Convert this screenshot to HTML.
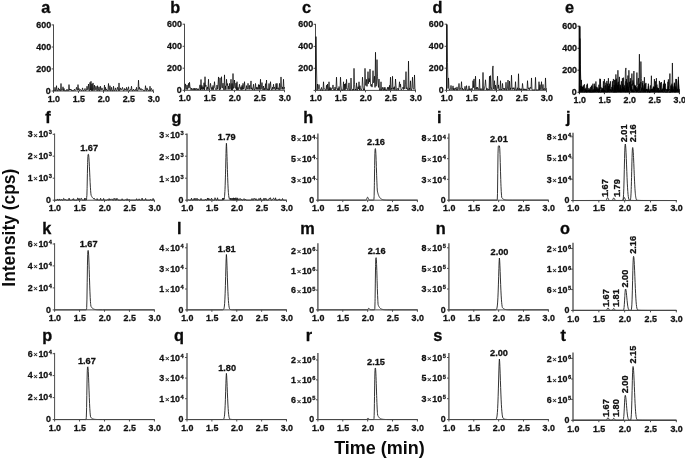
<!DOCTYPE html>
<html lang="en"><head><meta charset="utf-8"><title>Chromatograms</title>
<style>
html,body{margin:0;padding:0;background:#fff;}
body{width:685px;height:458px;overflow:hidden;}
svg{display:block;}
text{font-family:'Liberation Sans', Arial, Helvetica, sans-serif;font-weight:700;fill:#111;}
.tk{font-size:8.9px;stroke:#111;stroke-width:0.28px;}
.pk{font-size:9.2px;}
.mul{font-size:7.8px;font-weight:400;stroke-width:0.15px;}
.sup{font-size:5.7px;}
.let{font-size:16.3px;fill:#0a0a0a;stroke:#0a0a0a;stroke-width:0.3px;}
.big{font-size:18px;fill:#0a0a0a;}
</style></head><body>
<svg width="685" height="458" viewBox="0 0 685 458">
<rect width="685" height="458" fill="#fff"/>
<text transform="translate(15 227.7) rotate(-90) scale(1 1.04)" text-anchor="middle" class="big" style="font-size:17.4px">Intensity (cps)</text>
<text x="379.5" y="453.9" text-anchor="middle" class="big">Time (min)</text>
<path d="M53.5 24.5V91.5" stroke="#4a4a4a" stroke-width="1.0" fill="none"/>
<path d="M53 91H154" stroke="#4a4a4a" stroke-width="1.0" fill="none"/>
<text x="53.8" y="101.9" text-anchor="middle" class="tk">1.0</text>
<text x="78.8" y="101.9" text-anchor="middle" class="tk">1.5</text>
<text x="103.8" y="101.9" text-anchor="middle" class="tk">2.0</text>
<text x="128.8" y="101.9" text-anchor="middle" class="tk">2.5</text>
<text x="153.8" y="101.9" text-anchor="middle" class="tk">3.0</text>
<text x="51.15" y="27.9" text-anchor="end" class="tk">600</text>
<text x="51.15" y="50" text-anchor="end" class="tk">400</text>
<text x="51.15" y="71.9" text-anchor="end" class="tk">200</text>
<text x="50.7" y="93.7" text-anchor="end" class="tk">0</text>
<path d="M53.5 91v1.9M78.5 91v1.9M103.5 91v1.9M128.5 91v1.9M153.5 91v1.9M53.5 24.9h-1.9M53.5 47h-1.9M53.5 68.9h-1.9M53.5 91h-1.9" stroke="#4a4a4a" stroke-width="1.0" fill="none"/>
<text x="41.2" y="12.7" class="let">a</text>
<path d="M184.5 23.8V90.8" stroke="#4a4a4a" stroke-width="1.0" fill="none"/>
<path d="M184 90.3H285" stroke="#4a4a4a" stroke-width="1.0" fill="none"/>
<text x="184.8" y="101.2" text-anchor="middle" class="tk">1.0</text>
<text x="209.8" y="101.2" text-anchor="middle" class="tk">1.5</text>
<text x="234.8" y="101.2" text-anchor="middle" class="tk">2.0</text>
<text x="259.8" y="101.2" text-anchor="middle" class="tk">2.5</text>
<text x="284.8" y="101.2" text-anchor="middle" class="tk">3.0</text>
<text x="181.9" y="27.2" text-anchor="end" class="tk">600</text>
<text x="181.9" y="49.3" text-anchor="end" class="tk">400</text>
<text x="181.9" y="71.2" text-anchor="end" class="tk">200</text>
<text x="181.7" y="93" text-anchor="end" class="tk">0</text>
<path d="M184.5 90.3v1.9M209.5 90.3v1.9M234.5 90.3v1.9M259.5 90.3v1.9M284.5 90.3v1.9M184.5 24.2h-1.9M184.5 46.3h-1.9M184.5 68.2h-1.9M184.5 90.3h-1.9" stroke="#4a4a4a" stroke-width="1.0" fill="none"/>
<text x="170.3" y="12.7" class="let">b</text>
<path d="M315.5 23.9V90.9" stroke="#4a4a4a" stroke-width="1.0" fill="none"/>
<path d="M315 90.4H416" stroke="#4a4a4a" stroke-width="1.0" fill="none"/>
<text x="315.8" y="101.3" text-anchor="middle" class="tk">1.0</text>
<text x="340.8" y="101.3" text-anchor="middle" class="tk">1.5</text>
<text x="365.8" y="101.3" text-anchor="middle" class="tk">2.0</text>
<text x="390.8" y="101.3" text-anchor="middle" class="tk">2.5</text>
<text x="415.8" y="101.3" text-anchor="middle" class="tk">3.0</text>
<text x="313.15" y="27.3" text-anchor="end" class="tk">600</text>
<text x="313.15" y="49.4" text-anchor="end" class="tk">400</text>
<text x="313.15" y="71.3" text-anchor="end" class="tk">200</text>
<path d="M315.5 90.4v1.9M340.5 90.4v1.9M365.5 90.4v1.9M390.5 90.4v1.9M415.5 90.4v1.9M315.5 24.3h-1.9M315.5 46.4h-1.9M315.5 68.3h-1.9M315.5 90.4h-1.9" stroke="#4a4a4a" stroke-width="1.0" fill="none"/>
<text x="302" y="12.7" class="let">c</text>
<path d="M446.5 23.8V90.8" stroke="#4a4a4a" stroke-width="1.0" fill="none"/>
<path d="M446 90.3H547" stroke="#4a4a4a" stroke-width="1.0" fill="none"/>
<text x="446.8" y="101.2" text-anchor="middle" class="tk">1.0</text>
<text x="471.8" y="101.2" text-anchor="middle" class="tk">1.5</text>
<text x="496.8" y="101.2" text-anchor="middle" class="tk">2.0</text>
<text x="521.8" y="101.2" text-anchor="middle" class="tk">2.5</text>
<text x="546.8" y="101.2" text-anchor="middle" class="tk">3.0</text>
<text x="443.65" y="27.2" text-anchor="end" class="tk">600</text>
<text x="443.65" y="49.3" text-anchor="end" class="tk">400</text>
<text x="443.65" y="71.2" text-anchor="end" class="tk">200</text>
<text x="443.7" y="93" text-anchor="end" class="tk">0</text>
<path d="M446.5 90.3v1.9M471.5 90.3v1.9M496.5 90.3v1.9M521.5 90.3v1.9M546.5 90.3v1.9M446.5 24.2h-1.9M446.5 46.3h-1.9M446.5 68.2h-1.9M446.5 90.3h-1.9" stroke="#4a4a4a" stroke-width="1.0" fill="none"/>
<text x="432.4" y="12.7" class="let">d</text>
<path d="M579.4 25.8V92.8" stroke="#222" stroke-width="1.6" fill="none"/>
<path d="M578.9 92.3H679.9" stroke="#222" stroke-width="1.0" fill="none"/>
<text x="579.7" y="103.2" text-anchor="middle" class="tk">1.0</text>
<text x="604.7" y="103.2" text-anchor="middle" class="tk">1.5</text>
<text x="629.7" y="103.2" text-anchor="middle" class="tk">2.0</text>
<text x="654.7" y="103.2" text-anchor="middle" class="tk">2.5</text>
<text x="679.7" y="103.2" text-anchor="middle" class="tk">3.0</text>
<text x="577.05" y="29.2" text-anchor="end" class="tk">600</text>
<text x="577.05" y="51.3" text-anchor="end" class="tk">400</text>
<text x="577.05" y="73.2" text-anchor="end" class="tk">200</text>
<text x="576.6" y="95" text-anchor="end" class="tk">0</text>
<path d="M579.4 92.3v1.9M604.4 92.3v1.9M629.4 92.3v1.9M654.4 92.3v1.9M679.4 92.3v1.9M579.4 26.2h-1.9M579.4 48.3h-1.9M579.4 70.2h-1.9M579.4 92.3h-1.9" stroke="#222" stroke-width="1.0" fill="none"/>
<text x="565" y="12.7" class="let">e</text>
<path d="M53.5 90.65L54 90.65L54.5 90.65L55 87.34L55.5 90.65L56 90.65L56.5 85.69L57 90.65L57.5 90.65L58 89.86L58.5 87.9L59 90.65L59.5 89.13L60 90.65L60.5 90.65L61 83.49L61.5 90.17L62 90.65L62.5 89.98L63 86.79L63.5 90.65L64 88.45L64.5 90.65L65 90.65L65.5 90.65L66 90.65L66.5 90.65L67 89.11L67.5 90.65L68 90.65L68.5 90.65L69 84.59L69.5 90.11L70 89L70.5 90.04L71 89.15L71.5 90.65L72 89.96L72.5 90.65L73 90.65L73.5 90.65L74 90.11L74.5 89L75 90.65L75.5 90.09L76 89.5L76.5 87.34L77 89.92L77.5 90.12L78 84.59L78.5 89.8L79 88.45L79.5 90.65L80 89.49L80.5 89.73L81 89.9L81.5 90.65L82 90.65L82.5 87.9L83 89.76L83.5 90.65L84 90.65L84.5 90.06L85 88.45L85.5 90.65L86 89.87L86.5 90.09L87 86.24L87.5 89.54L88 89.7L88.5 84.04L89 90.65L89.5 90.65L90 82.39L90.5 90.02L91 81.29L91.5 90.65L92 84.04L92.5 90.65L93 82.94L93.5 89.16L94 90.65L94.5 85.14L95 90.08L95.5 89.15L96 86.24L96.5 89.3L97 90.65L97.5 85.69L98 90.65L98.5 89.94L99 86.79L99.5 90.65L100 90.65L100.5 86.24L101 90.17L101.5 89.71L102 87.9L102.5 89.57L103 89.8L103.5 90.65L104 90.65L104.5 85.14L105 90.65L105.5 87.34L106 90.15L106.5 89.2L107 90.65L107.5 90.65L108 89.5L108.5 83.49L109 90.65L109.5 89.11L110 85.69L110.5 90.65L111 90.65L111.5 87.34L112 90.65L112.5 90.65L113 90.65L113.5 86.24L114 90.65L114.5 90.65L115 89.79L115.5 87.9L116 90.65L116.5 90.65L117 89.56L117.5 87.34L118 89.5L118.5 90.65L119 82.94L119.5 90.65L120 90.1L120.5 87.9L121 89.74L121.5 89.38L122 89.54L122.5 87.34L123 89.43L123.5 90.65L124 90.65L124.5 88.45L125 90.18L125.5 89.46L126 90L126.5 87.34L127 90.65L127.5 89.22L128 89.47L128.5 86.79L129 90.65L129.5 90.65L130 90.65L130.5 89.56L131 90.04L131.5 86.24L132 90.65L132.5 90.65L133 90.65L133.5 89L134 90L134.5 90.65L135 89.96L135.5 89.51L136 90.65L136.5 87.34L137 90.65L137.5 90.65L138 90.15L138.5 80.18L139 89.42L139.5 87.34L140 89.33L140.5 90.04L141 88.45L141.5 89.87L142 90.04L142.5 89.51L143 89.51L143.5 90.65L144 90.65L144.5 90.65L145 90.65L145.5 85.69L146 90.18L146.5 90.65L147 87.9L147.5 89.89L148 89.43L148.5 90.65L149 90.65L149.5 90.65L150 86.24L150.5 90.65L151 89.97L151.5 88.45L152 89.7L152.5 90.65L153 90.65L153.5 89.57" stroke="#000" stroke-width="0.72" fill="none" stroke-linejoin="round"/>
<path d="M184.5 89.95L185 89.95L185.5 83.89L186 88.97L186.5 89.3L187 84.99L187.5 89.49L188 87.29L188.5 83.34L189 88.17L189.5 82.24L190 87.39L190.5 87.6L191 89.83L191.5 88.11L192 89.9L192.5 89.47L193 88.51L193.5 89.72L194 88.28L194.5 89.93L195 88.03L195.5 89.86L196 89.13L196.5 88.37L197 89.91L197.5 88.78L198 89.89L198.5 88.82L199 89.81L199.5 87.24L200 84.83L200.5 89.95L201 79.48L201.5 89.38L202 85.44L202.5 89.52L203 86.92L203.5 89.36L204 82.73L204.5 89.91L205 76.73L205.5 86.49L206 85.2L206.5 89.38L207 89.95L207.5 86.92L208 89.35L208.5 79.26L209 89.88L209.5 89.95L210 87.45L210.5 83.34L211 87.09L211.5 89.58L212 87.23L212.5 89.64L213 85.47L213.5 89.66L214 86.96L214.5 81.69L215 87.8L215.5 88.49L216 89.95L216.5 88.92L217 84.99L217.5 89.29L218 85.12L218.5 76.95L219 88.72L219.5 89.95L220 77.83L220.5 89.38L221 87.02L221.5 76.73L222 87.86L222.5 87.89L223 83.16L223.5 89.24L224 89.95L224.5 74.86L225 89.72L225.5 85.89L226 89.55L226.5 79.26L227 85.57L227.5 83.55L228 89.47L228.5 86.09L229 89.22L229.5 83.38L230 89.38L230.5 86.83L231 79.26L231.5 89.95L232 83.38L232.5 89.83L233 73.54L233.5 88.43L234 86.71L234.5 80.03L235 88.17L235.5 88.39L236 83.08L236.5 89.89L237 81.69L237.5 89.95L238 87.31L238.5 89.68L239 88.01L239.5 84.22L240 88.15L240.5 89.44L241 86.77L241.5 89.74L242 85.39L242.5 89.48L243 83.35L243.5 89.19L244 87.42L244.5 81.69L245 88.31L245.5 89.95L246 89.95L246.5 85.61L247 89.27L247.5 88.9L248 83.34L248.5 87.51L249 89.42L249.5 85.39L250 89.24L250.5 86.24L251 80.92L251.5 89.19L252 87.78L252.5 89.95L253 88.26L253.5 84.22L254 89.95L254.5 89.95L255 88.1L255.5 83.43L256 89.39L256.5 87.24L257 89.39L257.5 87.49L258 89.53L258.5 84.56L259 89.29L259.5 84.84L260 89.66L260.5 79.26L261 89.34L261.5 87.4L262 82.57L262.5 88.64L263 89.95L263.5 86.06L264 89.86L264.5 88.39L265 89.95L265.5 83.67L266 89.28L266.5 80.03L267 89.95L267.5 88.78L268 89.95L268.5 89.95L269 83.5L269.5 89.87L270 87.47L270.5 81.69L271 87.92L271.5 89.69L272 89.95L272.5 87.13L273 89.37L273.5 84.22L274 88.64L274.5 87.12L275 89.38L275.5 89.95L276 83.58L276.5 89.29L277 83.34L277.5 89.26L278 88.26L278.5 87.92L279 89.95L279.5 83.37L280 89.73L280.5 87.7L281 76.95L281.5 87.31L282 89.39L282.5 86.92L283 89.31L283.5 79.26L284 89.46L284.5 87.01" stroke="#000" stroke-width="0.72" fill="none" stroke-linejoin="round"/>
<path d="M315.5 90.05L316 36.62L316.5 68.02L317 90.05L317.5 83.99L318 89.61L318.5 88.5L319 84.54L319.5 87.71L320 89.96L320.5 90.05L321 90.05L321.5 87.41L322 89.7L322.5 90.05L323 90.05L323.5 81.79L324 89.28L324.5 88.76L325 89.17L325.5 90.05L326 90.05L326.5 85.24L327 89.61L327.5 84.04L328 90.05L328.5 90.05L329 81.79L329.5 90.05L330 87.35L330.5 90.05L331 87.75L331.5 89.74L332 89.09L332.5 88.07L333 84.95L333.5 89.45L334 89.13L334.5 90.05L335 87.07L335.5 89.72L336 88.24L336.5 77.16L337 88.77L337.5 90.05L338 88.15L338.5 90.05L339 86.54L339.5 89.67L340 90.05L340.5 77.16L341 85.89L341.5 89.86L342 90.05L342.5 90.05L343 90.05L343.5 81.79L344 90.05L344.5 84.08L345 90.05L345.5 83.58L346 89.18L346.5 79.36L347 87.57L347.5 89.35L348 90.05L348.5 87.26L349 82.89L349.5 90.05L350 90.05L350.5 90.05L351 78.04L351.5 87.95L352 90.05L352.5 90.05L353 89.02L353.5 90.05L354 68.35L354.5 84.59L355 90.05L355.5 89.02L356 90.05L356.5 82.89L357 90.05L357.5 90.05L358 86.73L358.5 89.04L359 81.79L359.5 90.05L360 85.68L360.5 89.31L361 89.19L361.5 90.05L362 87.89L362.5 77.16L363 85.39L363.5 90.05L364 88.69L364.5 90.05L365 68.35L365.5 84.96L366 85.63L366.5 79.39L367 86.41L367.5 81.83L368 71.65L368.5 83.66L369 78.53L369.5 81.94L370 69.12L370.5 84.27L371 86.28L371.5 84.3L372 87.13L372.5 84.11L373 70.66L373.5 82.87L374 82.24L374.5 76.23L375 87.45L375.5 52.26L376 86.27L376.5 84.67L377 59.64L377.5 76.79L378 83.06L378.5 87.42L379 79.03L379.5 90.05L380 90.05L380.5 90.05L381 81.79L381.5 90.05L382 90.05L382.5 87.39L383 89.67L383.5 90.05L384 87.3L384.5 90.05L385 87.3L385.5 90.05L386 90.05L386.5 90.05L387 90.05L387.5 87.3L388 89.58L388.5 87.3L389 90.05L389.5 85.33L390 89.79L390.5 77.16L391 90.05L391.5 88.15L392 88.88L392.5 76.28L393 89.75L393.5 87.61L394 89.31L394.5 86.71L395 90.05L395.5 79.03L396 85.94L396.5 89.78L397 90.05L397.5 88.61L398 87.99L398.5 90.05L399 87.45L399.5 81.79L400 87.15L400.5 84.11L401 89.37L401.5 90.05L402 88.61L402.5 88.26L403 87.2L403.5 89.48L404 79.91L404.5 88.67L405 88.96L405.5 84.23L406 71.65L406.5 88.82L407 87.69L407.5 89.29L408 90.05L408.5 61.08L409 90.05L409.5 87.95L410 89.53L410.5 80.8L411 90.05L411.5 90.05L412 87.83L412.5 77.16L413 87.52L413.5 89.3L414 88.81L414.5 74.96L415 90.05L415.5 90.05" stroke="#000" stroke-width="0.72" fill="none" stroke-linejoin="round"/>
<path d="M446.5 89.95L447 24.51L447.5 62.41L448 88.57L448.5 77.94L449 87.9L449.5 89.95L450 89.95L450.5 88.96L451 85.43L451.5 89.19L452 89.95L452.5 89.08L453 85.87L453.5 89.95L454 87.99L454.5 89.95L455 89.5L455.5 87.75L456 89.95L456.5 89.95L457 86.88L457.5 89.95L458 89.95L458.5 87.72L459 83.45L459.5 88.98L460 89.95L460.5 88.1L461 88.55L461.5 81.69L462 89.83L462.5 87.96L463 89.89L463.5 89.95L464 88.99L464.5 89.33L465 86.31L465.5 89.95L466 89.95L466.5 85.66L467 89.74L467.5 89.95L468 89.95L468.5 89.95L469 85.87L469.5 89.95L470 88.48L470.5 89.95L471 89.95L471.5 88.46L472 89.95L472.5 88.86L473 80.7L473.5 87.7L474 78.93L474.5 87.72L475 89.95L475.5 76.18L476 88.94L476.5 87.38L477 89.95L477.5 87.17L478 88.96L478.5 88.84L479 89.95L479.5 79.26L480 89.95L480.5 89.95L481 88.38L481.5 89.95L482 89.95L482.5 89.95L483 72.43L483.5 89.95L484 89.95L484.5 88.12L485 85.42L485.5 79.81L486 86.2L486.5 89.95L487 88.07L487.5 89.95L488 89.95L488.5 88.97L489 89.95L489.5 76.18L490 89.95L490.5 75.63L491 88.23L491.5 87.87L492 89.95L492.5 69.02L493 65.93L493.5 88.91L494 89.1L494.5 80.7L495 89.95L495.5 85.07L496 89.95L496.5 89.95L497 85.3L497.5 76.18L498 88.6L498.5 84.92L499 89.68L499.5 88.97L500 89.95L500.5 80.7L501 89.95L501.5 89.18L502 89.95L502.5 83.45L503 88.91L503.5 88.23L504 89.95L504.5 88.26L505 89.95L505.5 88.92L506 82.24L506.5 89.95L507 89.95L507.5 88.01L508 80.03L508.5 89.57L509 89.95L509.5 81.14L510 89.95L510.5 87.87L511 89.52L511.5 75.19L512 87.45L512.5 89.45L513 87.69L513.5 89.19L514 87.69L514.5 89.95L515 89.95L515.5 81.69L516 89.95L516.5 89.95L517 89.95L517.5 87.78L518 89.95L518.5 73.76L519 89.95L519.5 88.32L520 89.95L520.5 88.79L521 89.95L521.5 88.76L522 89.95L522.5 83.45L523 87.84L523.5 89.95L524 88.89L524.5 89.95L525 88.8L525.5 89.95L526 89.07L526.5 89.95L527 89.95L527.5 80.7L528 87.95L528.5 89.22L529 87.65L529.5 89.72L530 88.11L530.5 87.3L531 88.6L531.5 77.94L532 89.81L532.5 89.95L533 89.95L533.5 89.95L534 89.95L534.5 89.95L535 89.95L535.5 77.39L536 89.95L536.5 89.95L537 89.95L537.5 89.95L538 89.95L538.5 89.95L539 81.69L539.5 89.95L540 84.63L540.5 89.53L541 88.76L541.5 81.69L542 89.95L542.5 88.42L543 84.44L543.5 89.95L544 88.57L544.5 88.59L545 89.95L545.5 77.94L546 89.95L546.5 88.36" stroke="#000" stroke-width="0.72" fill="none" stroke-linejoin="round"/>
<path d="M579.4 91.95L579.9 91.95L580.4 91.95L580.9 88.65L581.4 91.95L581.9 91.95L582.4 86.99L582.9 91.95L583.4 91.95L583.9 91.16L584.4 89.2L584.9 91.95L585.4 90.43L585.9 91.95L586.4 91.95L586.9 84.79L587.4 91.47L587.9 91.95L588.4 91.28L588.9 88.09L589.4 91.95L589.9 89.75L590.4 91.95L590.9 91.95L591.4 91.95L591.9 91.95L592.4 91.95L592.9 90.41L593.4 91.95L593.9 91.95L594.4 91.95L594.9 85.89L595.4 91.41L595.9 90.3L596.4 91.34L596.9 90.45L597.4 91.95L597.9 91.26L598.4 91.95L598.9 91.95L599.4 91.95L599.9 91.41L600.4 90.3L600.9 91.95L601.4 91.39L601.9 90.8L602.4 88.65L602.9 91.22L603.4 91.42L603.9 85.89L604.4 91.1L604.9 89.75L605.4 91.95L605.9 90.79L606.4 91.03L606.9 91.2L607.4 91.95L607.9 91.95L608.4 89.2L608.9 91.06L609.4 91.95L609.9 91.95L610.4 91.36L610.9 89.75L611.4 91.95L611.9 91.17L612.4 91.39L612.9 87.54L613.4 90.84L613.9 91L614.4 85.34L614.9 91.95L615.4 91.95L615.9 83.69L616.4 91.32L616.9 82.59L617.4 91.95L617.9 85.34L618.4 91.95L618.9 84.24L619.4 90.46L619.9 91.95L620.4 86.44L620.9 91.38L621.4 90.45L621.9 87.54L622.4 90.6L622.9 91.95L623.4 86.99L623.9 91.95L624.4 91.24L624.9 88.09L625.4 91.95L625.9 91.95L626.4 87.54L626.9 91.47L627.4 91.01L627.9 89.2L628.4 90.87L628.9 91.1L629.4 91.95L629.9 91.95L630.4 86.44L630.9 91.95L631.4 88.65L631.9 91.45L632.4 90.5L632.9 91.95L633.4 91.95L633.9 90.8L634.4 84.79L634.9 91.95L635.4 90.41L635.9 86.99L636.4 91.95L636.9 91.95L637.4 88.65L637.9 91.95L638.4 91.95L638.9 91.95L639.4 87.54L639.9 91.95L640.4 91.95L640.9 91.09L641.4 89.2L641.9 91.95L642.4 91.95L642.9 90.86L643.4 88.65L643.9 90.8L644.4 91.95L644.9 84.24L645.4 91.95L645.9 91.4L646.4 89.2L646.9 91.04L647.4 90.68L647.9 90.84L648.4 88.65L648.9 90.73L649.4 91.95L649.9 91.95L650.4 89.75L650.9 91.48L651.4 90.76L651.9 91.3L652.4 88.65L652.9 91.95L653.4 90.52L653.9 90.77L654.4 88.09L654.9 91.95L655.4 91.95L655.9 91.95L656.4 90.86L656.9 91.34L657.4 87.54L657.9 91.95L658.4 91.95L658.9 91.95L659.4 90.3L659.9 91.3L660.4 91.95L660.9 91.26L661.4 90.81L661.9 91.95L662.4 88.65L662.9 91.95L663.4 91.95L663.9 91.45L664.4 81.48L664.9 90.72L665.4 88.65L665.9 90.63L666.4 91.34L666.9 89.75L667.4 91.17L667.9 91.34L668.4 90.81L668.9 90.81L669.4 91.95L669.9 91.95L670.4 91.95L670.9 91.95L671.4 86.99L671.9 91.48L672.4 91.95L672.9 89.2L673.4 91.19L673.9 90.73L674.4 91.95L674.9 91.95L675.4 91.95L675.9 87.54L676.4 91.95L676.9 91.27L677.4 89.75L677.9 91L678.4 91.95L678.9 91.95L679.4 90.87" stroke="#000" stroke-width="0.72" fill="none" stroke-linejoin="round"/>
<path d="M579.4 91.95L579.9 91.95L580.4 85.89L580.9 90.97L581.4 91.3L581.9 86.99L582.4 91.49L582.9 89.29L583.4 85.34L583.9 90.17L584.4 84.24L584.9 89.39L585.4 89.6L585.9 91.83L586.4 90.11L586.9 91.9L587.4 91.47L587.9 90.51L588.4 91.72L588.9 90.28L589.4 91.93L589.9 90.03L590.4 91.86L590.9 91.13L591.4 90.37L591.9 91.91L592.4 90.78L592.9 91.89L593.4 90.82L593.9 91.81L594.4 89.24L594.9 86.83L595.4 91.95L595.9 81.48L596.4 91.38L596.9 87.44L597.4 91.52L597.9 88.92L598.4 91.36L598.9 84.73L599.4 91.91L599.9 78.73L600.4 88.49L600.9 87.2L601.4 91.38L601.9 91.95L602.4 88.92L602.9 91.35L603.4 81.26L603.9 91.88L604.4 91.95L604.9 89.45L605.4 85.34L605.9 89.09L606.4 91.58L606.9 89.23L607.4 91.64L607.9 87.47L608.4 91.66L608.9 88.96L609.4 83.69L609.9 89.8L610.4 90.49L610.9 91.95L611.4 90.92L611.9 86.99L612.4 91.29L612.9 87.12L613.4 78.95L613.9 90.72L614.4 91.95L614.9 79.83L615.4 91.38L615.9 89.02L616.4 78.73L616.9 89.86L617.4 89.89L617.9 85.16L618.4 91.24L618.9 91.95L619.4 76.86L619.9 91.72L620.4 87.89L620.9 91.55L621.4 81.26L621.9 87.57L622.4 85.55L622.9 91.47L623.4 88.09L623.9 91.22L624.4 85.38L624.9 91.38L625.4 88.83L625.9 81.26L626.4 91.95L626.9 85.38L627.4 91.83L627.9 75.54L628.4 90.43L628.9 88.71L629.4 82.03L629.9 90.17L630.4 90.39L630.9 85.08L631.4 91.89L631.9 83.69L632.4 91.95L632.9 89.31L633.4 91.68L633.9 90.01L634.4 86.22L634.9 90.15L635.4 91.44L635.9 88.77L636.4 91.74L636.9 87.39L637.4 91.48L637.9 85.35L638.4 91.19L638.9 89.42L639.4 83.69L639.9 90.31L640.4 91.95L640.9 91.95L641.4 87.61L641.9 91.27L642.4 90.9L642.9 85.34L643.4 89.51L643.9 91.42L644.4 87.39L644.9 91.24L645.4 88.24L645.9 82.92L646.4 91.19L646.9 89.78L647.4 91.95L647.9 90.26L648.4 86.22L648.9 91.95L649.4 91.95L649.9 90.1L650.4 85.43L650.9 91.39L651.4 89.24L651.9 91.39L652.4 89.49L652.9 91.53L653.4 86.56L653.9 91.29L654.4 86.84L654.9 91.66L655.4 81.26L655.9 91.34L656.4 89.4L656.9 84.57L657.4 90.64L657.9 91.95L658.4 88.06L658.9 91.86L659.4 90.39L659.9 91.95L660.4 85.67L660.9 91.28L661.4 82.03L661.9 91.95L662.4 90.78L662.9 91.95L663.4 91.95L663.9 85.5L664.4 91.87L664.9 89.47L665.4 83.69L665.9 89.92L666.4 91.69L666.9 91.95L667.4 89.13L667.9 91.37L668.4 86.22L668.9 90.64L669.4 89.12L669.9 91.38L670.4 91.95L670.9 85.58L671.4 91.29L671.9 85.34L672.4 91.26L672.9 90.26L673.4 89.92L673.9 91.95L674.4 85.37L674.9 91.73L675.4 89.7L675.9 78.95L676.4 89.31L676.9 91.39L677.4 88.92L677.9 91.31L678.4 81.26L678.9 91.46L679.4 89.01" stroke="#000" stroke-width="0.72" fill="none" stroke-linejoin="round"/>
<path d="M579.4 91.95L579.9 38.52L580.4 69.92L580.9 91.95L581.4 85.89L581.9 91.51L582.4 90.4L582.9 86.44L583.4 89.61L583.9 91.86L584.4 91.95L584.9 91.95L585.4 89.31L585.9 91.6L586.4 91.95L586.9 91.95L587.4 83.69L587.9 91.18L588.4 90.66L588.9 91.07L589.4 91.95L589.9 91.95L590.4 87.14L590.9 91.51L591.4 85.94L591.9 91.95L592.4 91.95L592.9 83.69L593.4 91.95L593.9 89.25L594.4 91.95L594.9 89.65L595.4 91.64L595.9 90.99L596.4 89.97L596.9 86.85L597.4 91.35L597.9 91.03L598.4 91.95L598.9 88.97L599.4 91.62L599.9 90.14L600.4 79.06L600.9 90.67L601.4 91.95L601.9 90.05L602.4 91.95L602.9 88.44L603.4 91.57L603.9 91.95L604.4 79.06L604.9 87.79L605.4 91.76L605.9 91.95L606.4 91.95L606.9 91.95L607.4 83.69L607.9 91.95L608.4 85.98L608.9 91.95L609.4 85.48L609.9 91.08L610.4 81.26L610.9 89.47L611.4 91.25L611.9 91.95L612.4 89.16L612.9 84.79L613.4 91.95L613.9 91.95L614.4 91.95L614.9 79.94L615.4 89.85L615.9 91.95L616.4 91.95L616.9 90.92L617.4 91.95L617.9 70.25L618.4 86.49L618.9 91.95L619.4 90.92L619.9 91.95L620.4 84.79L620.9 91.95L621.4 91.95L621.9 88.63L622.4 90.94L622.9 83.69L623.4 91.95L623.9 87.58L624.4 91.21L624.9 91.09L625.4 91.95L625.9 89.79L626.4 79.06L626.9 87.29L627.4 91.95L627.9 90.59L628.4 91.95L628.9 70.25L629.4 86.86L629.9 87.53L630.4 81.29L630.9 88.31L631.4 83.73L631.9 73.55L632.4 85.56L632.9 80.43L633.4 83.84L633.9 71.02L634.4 86.17L634.9 88.18L635.4 86.2L635.9 89.03L636.4 86.01L636.9 72.56L637.4 84.77L637.9 84.14L638.4 78.13L638.9 89.35L639.4 54.16L639.9 88.17L640.4 86.57L640.9 61.54L641.4 78.69L641.9 84.96L642.4 89.32L642.9 80.93L643.4 91.95L643.9 91.95L644.4 91.95L644.9 83.69L645.4 91.95L645.9 91.95L646.4 89.29L646.9 91.57L647.4 91.95L647.9 89.2L648.4 91.95L648.9 89.2L649.4 91.95L649.9 91.95L650.4 91.95L650.9 91.95L651.4 89.2L651.9 91.48L652.4 89.2L652.9 91.95L653.4 87.23L653.9 91.69L654.4 79.06L654.9 91.95L655.4 90.05L655.9 90.78L656.4 78.18L656.9 91.65L657.4 89.51L657.9 91.21L658.4 88.61L658.9 91.95L659.4 80.93L659.9 87.84L660.4 91.68L660.9 91.95L661.4 90.51L661.9 89.89L662.4 91.95L662.9 89.35L663.4 83.69L663.9 89.05L664.4 86.01L664.9 91.27L665.4 91.95L665.9 90.51L666.4 90.16L666.9 89.1L667.4 91.38L667.9 81.81L668.4 90.57L668.9 90.86L669.4 86.13L669.9 73.55L670.4 90.72L670.9 89.59L671.4 91.19L671.9 91.95L672.4 62.98L672.9 91.95L673.4 89.85L673.9 91.43L674.4 82.7L674.9 91.95L675.4 91.95L675.9 89.73L676.4 79.06L676.9 89.42L677.4 91.2L677.9 90.71L678.4 76.86L678.9 91.95L679.4 91.95" stroke="#000" stroke-width="0.72" fill="none" stroke-linejoin="round"/>
<path d="M579.4 91.95L579.9 26.51L580.4 64.41L580.9 90.57L581.4 79.94L581.9 89.9L582.4 91.95L582.9 91.95L583.4 90.96L583.9 87.43L584.4 91.19L584.9 91.95L585.4 91.08L585.9 87.87L586.4 91.95L586.9 89.99L587.4 91.95L587.9 91.5L588.4 89.75L588.9 91.95L589.4 91.95L589.9 88.88L590.4 91.95L590.9 91.95L591.4 89.72L591.9 85.45L592.4 90.98L592.9 91.95L593.4 90.1L593.9 90.55L594.4 83.69L594.9 91.83L595.4 89.96L595.9 91.89L596.4 91.95L596.9 90.99L597.4 91.33L597.9 88.31L598.4 91.95L598.9 91.95L599.4 87.66L599.9 91.74L600.4 91.95L600.9 91.95L601.4 91.95L601.9 87.87L602.4 91.95L602.9 90.48L603.4 91.95L603.9 91.95L604.4 90.46L604.9 91.95L605.4 90.86L605.9 82.7L606.4 89.7L606.9 80.93L607.4 89.72L607.9 91.95L608.4 78.18L608.9 90.94L609.4 89.38L609.9 91.95L610.4 89.17L610.9 90.96L611.4 90.84L611.9 91.95L612.4 81.26L612.9 91.95L613.4 91.95L613.9 90.38L614.4 91.95L614.9 91.95L615.4 91.95L615.9 74.43L616.4 91.95L616.9 91.95L617.4 90.12L617.9 87.42L618.4 81.81L618.9 88.2L619.4 91.95L619.9 90.07L620.4 91.95L620.9 91.95L621.4 90.97L621.9 91.95L622.4 78.18L622.9 91.95L623.4 77.63L623.9 90.23L624.4 89.87L624.9 91.95L625.4 71.02L625.9 67.93L626.4 90.91L626.9 91.1L627.4 82.7L627.9 91.95L628.4 87.07L628.9 91.95L629.4 91.95L629.9 87.3L630.4 78.18L630.9 90.6L631.4 86.92L631.9 91.68L632.4 90.97L632.9 91.95L633.4 82.7L633.9 91.95L634.4 91.18L634.9 91.95L635.4 85.45L635.9 90.91L636.4 90.23L636.9 91.95L637.4 90.26L637.9 91.95L638.4 90.92L638.9 84.24L639.4 91.95L639.9 91.95L640.4 90.01L640.9 82.03L641.4 91.57L641.9 91.95L642.4 83.14L642.9 91.95L643.4 89.87L643.9 91.52L644.4 77.19L644.9 89.45L645.4 91.45L645.9 89.69L646.4 91.19L646.9 89.69L647.4 91.95L647.9 91.95L648.4 83.69L648.9 91.95L649.4 91.95L649.9 91.95L650.4 89.78L650.9 91.95L651.4 75.76L651.9 91.95L652.4 90.32L652.9 91.95L653.4 90.79L653.9 91.95L654.4 90.76L654.9 91.95L655.4 85.45L655.9 89.84L656.4 91.95L656.9 90.89L657.4 91.95L657.9 90.8L658.4 91.95L658.9 91.07L659.4 91.95L659.9 91.95L660.4 82.7L660.9 89.95L661.4 91.22L661.9 89.65L662.4 91.72L662.9 90.11L663.4 89.3L663.9 90.6L664.4 79.94L664.9 91.81L665.4 91.95L665.9 91.95L666.4 91.95L666.9 91.95L667.4 91.95L667.9 91.95L668.4 79.39L668.9 91.95L669.4 91.95L669.9 91.95L670.4 91.95L670.9 91.95L671.4 91.95L671.9 83.69L672.4 91.95L672.9 86.63L673.4 91.53L673.9 90.76L674.4 83.69L674.9 91.95L675.4 90.42L675.9 86.44L676.4 91.95L676.9 90.57L677.4 90.59L677.9 91.95L678.4 79.94L678.9 91.95L679.4 90.36" stroke="#000" stroke-width="0.72" fill="none" stroke-linejoin="round"/>
<path d="M54.6 200.15L57.1 200.15L57.6 198.96L58.1 200.15L59.1 200.15L59.6 198.95L60.1 200.15L61.1 200.15L61.6 199.38L62.1 200.15L63.1 200.15L63.6 198.39L64.1 198.7L64.6 199.75L65.1 200.15L65.6 199.38L66.1 200.15L68.6 200.15L69.1 198.15L69.6 200.15L71.6 200.15L72.1 199.5L72.6 199.24L73.1 200.15L73.6 198.6L74.1 200.15L77.1 200.15L77.6 198.09L78.1 198.48L78.6 200.15L79.1 198.41L79.6 200.15L80.1 200.15L80.6 199.67L81.1 198.13L81.6 198.47L82.1 200.15L84.4 200.15L84.6 198.48L84.65 200.15L84.9 200.15L85.1 198.14L85.15 199.17L85.4 200.15L86.15 200.15L86.4 200.05L86.6 198.97L86.65 197.61L86.9 195.32L87.1 188.42L87.15 186.18L87.4 173.51L87.6 164.35L87.65 162.5L87.9 156.36L88.1 154.57L88.15 154.4L88.4 154.2L88.6 154.78L88.65 155.1L88.9 157.7L89.1 160.81L89.15 161.7L89.4 166.68L89.6 171.03L89.65 172.14L89.9 177.62L90.1 181.76L90.15 182.74L90.4 187.21L90.6 190.23L90.65 190.91L90.9 193.81L91.1 195.15L91.15 195.27L91.4 195.84L91.6 196.25L91.65 196.35L91.9 196.8L92.1 197.12L92.15 197.19L92.4 197.54L92.6 197.79L92.65 197.85L92.9 198.12L93.1 198.31L93.15 198.35L93.4 198.57L93.6 198.72L93.65 198.75L93.9 198.92L94.1 198.17L94.15 199.06L94.4 199.19L94.6 199.28L94.65 199.3L94.9 199.4L95.1 199.47L95.15 199.49L95.4 199.57L95.6 199.62L95.65 199.64L95.9 199.7L96.1 199.74L96.15 199.75L96.4 199.8L96.6 199.83L96.65 199.84L96.9 199.87L97.1 199.9L97.15 198.58L97.4 199.94L97.6 199.96L97.65 199.96L97.9 199.98L98.4 200.02L98.9 200.05L99.4 200.07L100.1 200.09L100.15 200.1L100.6 198.28L101.1 200.12L103.1 200.14L103.6 198.41L104.1 200.14L107.1 200.15L107.6 199.48L108.1 200.15L108.6 200.15L109.1 198.58L109.6 200.15L110.1 198.95L110.6 199.66L111.1 199.21L111.6 199.42L112.1 198.96L112.6 200.15L113.6 200.15L114.1 198.21L114.6 199.06L115.1 200.15L115.6 200.15L116.1 198.34L116.6 200.15L117.1 198.71L117.6 198.82L118.1 200.15L121.6 200.15L122.1 198.74L122.6 200.15L125.1 200.15L125.6 199.57L126.1 200.15L126.6 200.15L127.1 198.68L127.6 200.15L128.6 200.15L129.1 199.25L129.6 200.15L136.1 200.15L136.6 198.69L137.1 200.15L138.6 200.15L139.1 198.84L139.6 200.15L141.6 200.15L142.1 198.07L142.6 200.15L145.1 200.15L145.6 198.46L146.1 200.15L150.1 200.15L150.6 199.32L151.1 200.15L152.6 200.15L153.1 198.43L153.6 200.15L154.4 200.15" stroke="#1c1c1c" stroke-width="0.9" fill="none" stroke-linejoin="round"/>
<path d="M187 200.15L188 200.15L188.5 199.75L189 200.15L191 200.15L191.5 198.15L192 200.15L193.5 200.15L194 198.64L194.5 200.15L195 198.14L195.5 200.15L196.5 200.15L197 198.15L197.5 200.15L198 200.15L198.5 199.36L199 200.15L200.5 200.15L201 198.44L201.5 200.15L205 200.15L205.5 199.03L206 200.15L207 200.15L207.5 197.99L208 200.15L208.5 198.42L209 200.15L209.5 198.78L210 199.33L210.5 200.15L211 200.15L211.5 198.19L212 199.08L212.5 200.15L214.5 200.15L215 197.75L215.5 198.9L216 200.15L217 200.15L217.5 197.79L218 200.15L222.4 200.15L222.5 198.25L222.65 198.77L222.9 200.13L223 199.68L223.15 198.52L223.4 200.02L223.5 198.66L223.65 199.85L223.9 198.27L224 199.26L224.15 198.79L224.4 197.47L224.5 196.69L224.65 195.16L224.9 191.41L225 189.39L225.15 185.75L225.4 177.94L225.5 174.23L225.65 168.2L225.9 157.58L226 153.51L226.15 148.14L226.4 143.3L226.5 144L226.65 146.56L226.9 153.23L227 156.39L227.15 161.37L227.4 169.68L227.5 172.84L227.65 177.3L227.9 183.74L228 185.94L228.15 188.84L228.4 192.66L228.5 193.86L228.65 195.37L228.9 197.21L229 197.75L229.15 197.62L229.4 199.15L229.5 199.29L229.65 199.39L229.9 199.53L230 199.58L230.15 199.65L230.4 199.74L230.5 198.65L230.65 198.17L230.9 199.88L231 198.25L231.15 199.32L231.4 199.97L231.65 200.01L231.9 200.03L232 200.04L232.15 197.99L232.4 198.44L232.5 200.08L233 200.1L233.4 200.12L233.5 197.83L233.65 200.12L234.15 200.13L234.4 198.31L234.5 198.14L234.65 200.14L235 200.14L235.15 198.03L235.4 197.81L235.5 200.14L235.65 200.14L235.9 199.57L236 200.15L236.4 200.15L236.5 199.4L236.65 200.15L236.9 197.76L237 200.15L237.5 200.15L237.65 198.29L237.9 198.65L238 200.15L238.15 200.15L238.5 199.6L239 200.15L239.5 198.7L240 199.19L240.5 198.61L241 200.15L241.5 199.31L242 200.15L243 200.15L243.5 199.12L244 198.61L244.5 200.15L245 200.15L245.5 199.1L246 200.15L251.5 200.15L252 198.5L252.5 200.15L253 199.67L253.5 200.15L254 198.33L254.5 199.01L255 198.66L255.5 200.15L256 198.62L256.5 200.15L258.5 200.15L259 198.43L259.5 199.53L260 200.15L260.5 197.91L261 200.15L263.5 200.15L264 198.03L264.5 200.15L265 200.15L265.5 198.57L266 198.17L266.5 200.15L268.5 200.15L269 198.56L269.5 199.02L270 197.85L270.5 197.91L271 200.15L272 200.15L272.5 199.47L273 199.61L273.5 198.09L274 198.57L274.5 199.49L275 200.15L275.5 197.8L276 200.15L278 200.15L278.5 199.48L279 200.15L279.5 198.85L280 200.15L282 200.15L282.5 198.56L283 200.15L286.5 200.15" stroke="#1c1c1c" stroke-width="0.9" fill="none" stroke-linejoin="round"/>
<path d="M317.9 200.15L365.35 200.13L365.6 200.1L365.85 200.02L365.9 200L366.1 199.85L366.35 199.55L366.6 199.09L366.85 198.49L367.1 197.86L367.35 197.38L367.6 197.2L367.85 197.38L368.1 197.86L368.35 198.49L368.6 199.09L368.85 199.55L369.1 199.85L369.35 200.02L369.6 200.1L369.85 200.13L373.65 200.12L373.85 199.8L373.9 199.55L374.1 196.66L374.15 195.23L374.35 185.76L374.4 182.56L374.6 168.65L374.65 165.35L374.85 155.01L374.9 153.27L375.1 149.41L375.15 149.03L375.35 148.6L375.4 148.6L375.6 149.55L375.65 150.08L375.85 153.25L375.9 154.28L376.1 159.15L376.15 160.51L376.35 166.33L376.4 167.84L376.6 173.84L376.65 175.3L376.85 180.84L376.9 182.13L377.1 186.79L377.15 187.82L377.35 190.91L377.4 191.15L377.6 192.05L377.65 192.26L377.85 193.05L377.9 193.24L378.1 193.93L378.15 194.09L378.35 194.69L378.4 194.84L378.6 195.37L378.65 195.49L378.85 195.96L378.9 196.07L379.1 196.47L379.15 196.57L379.35 196.93L379.4 197.01L379.65 197.4L379.9 197.74L380.15 198.03L380.4 198.3L380.65 198.52L380.9 198.72L381.15 198.9L381.4 199.05L381.65 199.19L381.9 199.31L382.15 199.41L382.4 199.5L382.65 199.58L382.9 199.65L383.15 199.71L383.4 199.77L383.65 199.81L383.9 199.86L384.15 199.89L384.4 199.92L384.65 199.95L384.9 199.98L385.15 200L385.65 200.03L386.15 200.06L386.65 200.08L387.15 200.1L389.9 200.14L417.4 200.15" stroke="#1c1c1c" stroke-width="0.9" fill="none" stroke-linejoin="round"/>
<path d="M448.9 200.15L497 200.15L497.25 199.74L497.5 193.35L497.75 173.21L498 153.75L498.25 146.65L498.5 145.9L499.25 145.9L499.5 145.98L499.75 148.62L500 154.5L500.25 162.5L500.5 171.23L500.75 179.47L500.9 183.81L501 186.38L501.25 191.61L501.5 195.22L501.75 197.5L502 197.95L502.25 198.26L502.5 198.54L502.75 198.77L503 198.97L503.25 199.14L503.5 199.29L503.75 199.41L504 199.52L504.25 199.61L504.5 199.69L504.75 199.75L504.9 199.79L505 199.81L505.25 199.86L505.5 199.9L505.75 199.94L506 199.97L506.25 200L506.5 200.02L507 200.05L507.5 200.08L508.25 200.11L509.25 200.13L512.9 200.15L548.4 200.15" stroke="#1c1c1c" stroke-width="0.9" fill="none" stroke-linejoin="round"/>
<path d="M573 200.5L605.35 200.48L605.6 200.45L605.85 200.37L606.1 200.2L606.35 199.9L606.6 199.44L606.85 198.84L607.1 198.21L607.35 197.73L607.6 197.55L607.85 197.73L608.1 198.21L608.35 198.84L608.6 199.44L608.85 199.9L609 200.1L609.1 200.2L609.35 200.37L609.6 200.45L609.8 200.48L610.55 200.5L611.6 200.48L611.8 200.46L611.85 200.45L612.05 200.39L612.1 200.37L612.3 200.24L612.35 200.2L612.55 199.98L612.6 199.91L612.8 199.58L612.85 199.48L613 199.17L613.05 199.06L613.1 198.95L613.3 198.52L613.35 198.43L613.55 198.11L613.6 198.05L613.8 197.95L613.85 197.96L614.05 198.11L614.1 198.17L614.3 198.52L614.35 198.63L614.55 199.06L614.6 199.17L614.8 199.58L614.85 199.67L615.05 199.98L615.1 200.05L615.3 200.24L615.35 200.28L615.55 200.39L615.6 200.41L615.8 200.46L615.85 200.46L616.05 200.49L622.3 200.49L622.55 200.43L622.8 200.23L623.05 199.62L623.3 198.05L623.55 194.72L623.8 188.8L624.05 180.07L624.3 169.37L624.55 158.64L624.8 150.11L625 145.93L625.05 145.29L625.3 144.1L625.55 145.13L625.8 148.1L626.05 152.71L626.3 158.49L626.55 164.9L626.8 171.43L627.05 177.61L627.3 183.13L627.55 187.8L627.8 191.55L628.05 194.42L628.3 196.52L628.55 197.99L628.8 198.97L629 199.5L629.05 199.6L629.3 199.99L629.55 200.16L629.8 200.2L630.05 200.24L630.3 200.27L630.55 200.3L630.8 200.32L631.05 200.34L631.55 200.38L632.05 200.4L632.55 200.42L633.3 200.45L634.3 200.47L636.55 200.49L676.3 200.5" stroke="#1c1c1c" stroke-width="0.9" fill="none" stroke-linejoin="round"/>
<path d="M573 200.5L622.05 200.48L622.3 200.45L622.55 200.37L622.8 200.2L623.05 199.9L623.3 199.44L623.55 198.84L623.8 198.21L624.05 197.73L624.3 197.55L624.55 197.73L624.8 198.21L625 198.71L625.05 198.84L625.3 199.44L625.55 199.9L625.8 200.2L626.05 200.37L626.3 200.45L626.55 200.48L629.8 200.47L629.95 200.44L630.05 200.39L630.2 200.25L630.3 200.09L630.45 199.67L630.55 199.23L630.7 198.2L630.8 197.19L630.95 195.06L631.05 193.16L631.2 189.51L631.3 186.52L631.45 181.3L631.55 177.42L631.7 171.25L631.8 167.1L631.95 161.16L632.05 157.6L632.2 153.15L632.3 150.88L632.45 148.62L632.55 147.83L632.7 147.5L632.8 147.66L632.95 148.47L633 148.89L633.05 149.38L633.2 151.26L633.3 152.83L633.45 155.59L633.55 157.66L633.7 161.02L633.8 163.39L633.95 167.05L634.05 169.51L634.2 173.18L634.3 175.56L634.45 178.99L634.55 181.16L634.7 184.18L634.8 186.04L634.95 188.57L635.05 190.08L635.2 192.09L635.3 193.26L635.45 194.78L635.55 195.65L635.7 196.76L635.8 197.37L635.95 198.14L636.05 198.55L636.2 199.06L636.45 199.66L636.7 200.02L636.95 200.18L637 200.19L637.2 200.22L637.45 200.25L637.7 200.28L637.95 200.31L638.2 200.33L638.7 200.37L639.2 200.4L639.7 200.42L640.45 200.45L641.45 200.47L643.45 200.49L676.3 200.5" stroke="#1c1c1c" stroke-width="0.9" fill="none" stroke-linejoin="round"/>
<path d="M54.6 309.85L86.2 309.84L86.45 309.62L86.6 308.82L86.7 307.51L86.95 299.08L87.2 282.66L87.45 265.18L87.7 254.37L87.95 250.76L88.2 250.4L88.45 251.83L88.7 255.91L88.95 262.09L89.2 269.58L89.45 277.5L89.7 285.1L89.95 291.81L90.2 297.33L90.45 301.57L90.6 303.54L90.7 304.64L90.95 306.24L91.2 306.71L91.45 307.11L91.7 307.47L91.95 307.78L92.2 308.05L92.45 308.28L92.7 308.48L92.95 308.66L93.2 308.82L93.45 308.95L93.7 309.07L93.95 309.17L94.2 309.26L94.45 309.33L94.6 309.37L94.7 309.4L94.95 309.46L95.2 309.51L95.45 309.55L95.7 309.59L95.95 309.63L96.2 309.65L96.45 309.68L96.7 309.7L97.2 309.74L97.7 309.77L98.2 309.79L98.95 309.81L102.6 309.84L154.4 309.85" stroke="#1c1c1c" stroke-width="0.9" fill="none" stroke-linejoin="round"/>
<path d="M187 309.85L222.65 309.83L222.9 309.8L223 309.78L223.15 309.73L223.4 309.59L223.65 309.3L223.9 308.75L224.15 307.76L224.4 306.07L224.65 303.33L224.9 299.17L225.15 293.29L225.4 285.61L225.65 276.49L225.9 266.92L226.15 258.67L226.4 254.5L226.65 257.3L226.9 263.09L227 265.87L227.15 270.3L227.4 277.85L227.65 285L227.9 291.28L228.15 296.46L228.4 300.52L228.65 303.56L228.9 305.75L229.15 307.25L229.4 308.26L229.65 308.9L229.9 309.25L230.15 309.36L230.4 309.46L230.65 309.53L230.9 309.59L231 309.61L231.15 309.64L231.4 309.68L231.65 309.71L231.9 309.74L232.15 309.76L232.65 309.79L233.15 309.81L234.15 309.83L286.5 309.85" stroke="#1c1c1c" stroke-width="0.9" fill="none" stroke-linejoin="round"/>
<path d="M317.9 309.85L366.8 309.82L367.05 309.78L367.3 309.69L367.55 309.54L367.8 309.29L368.05 308.98L368.3 308.65L368.55 308.4L368.8 308.3L369.05 308.4L369.3 308.65L369.55 308.98L369.8 309.29L369.9 309.4L370.05 309.54L370.3 309.69L370.55 309.78L370.8 309.82L371.3 309.85L374.35 309.85L374.55 309.81L374.6 309.76L374.8 308.71L374.85 307.99L375.05 301.32L375.1 298.52L375.3 283.93L375.35 279.99L375.55 266.65L375.6 264.28L375.8 258.86L375.85 258.32L376.05 257.7L376.1 257.7L376.3 258.88L376.35 259.53L376.55 263.39L376.6 264.63L376.8 270.42L376.85 272.02L377.05 278.69L377.1 280.38L377.3 286.92L377.35 288.47L377.55 294.14L377.6 295.41L377.8 299.83L377.85 300.77L377.9 301.64L378.05 303.9L378.1 304.53L378.3 305.24L378.35 305.37L378.55 305.84L378.6 305.95L378.8 306.36L378.85 306.45L379.05 306.81L379.1 306.9L379.3 307.21L379.35 307.28L379.55 307.55L379.6 307.61L379.8 307.85L379.85 307.9L380.05 308.11L380.1 308.15L380.3 308.33L380.35 308.37L380.55 308.53L380.6 308.57L380.85 308.73L381.1 308.88L381.35 309L381.6 309.11L381.85 309.21L381.9 309.23L382.1 309.29L382.35 309.36L382.6 309.43L382.85 309.48L383.1 309.53L383.35 309.57L383.6 309.61L383.85 309.64L384.1 309.67L384.35 309.69L384.6 309.71L385.1 309.74L385.6 309.77L386.35 309.8L387.35 309.82L389.9 309.84L417.4 309.85" stroke="#1c1c1c" stroke-width="0.9" fill="none" stroke-linejoin="round"/>
<path d="M448.9 309.85L492.9 309.85L495.4 309.83L495.65 309.8L495.9 309.74L496.15 309.62L496.4 309.4L496.65 308.98L496.9 308.25L497.15 307.02L497.4 305.05L497.65 302.07L497.9 297.8L498.15 292.07L498.4 284.92L498.65 276.76L498.9 268.46L499.15 261.48L499.4 258L499.65 260.33L499.9 265.2L500.15 271.36L500.4 277.96L500.65 284.37L500.9 290.16L501.15 295.12L501.4 299.16L501.65 302.32L501.9 304.69L502.15 306.41L502.4 307.46L502.65 307.81L502.9 308.1L503.15 308.36L503.4 308.57L503.65 308.76L503.9 308.92L504.15 309.05L504.4 309.17L504.65 309.27L504.9 309.35L505.15 309.42L505.4 309.48L505.65 309.54L505.9 309.58L506.15 309.62L506.4 309.65L506.65 309.68L506.9 309.71L507.15 309.73L507.65 309.76L508.15 309.78L508.9 309.81L510.15 309.83L548.4 309.85" stroke="#1c1c1c" stroke-width="0.9" fill="none" stroke-linejoin="round"/>
<path d="M573 310.4L605.75 310.39L606 310.36L606.25 310.29L606.5 310.14L606.75 309.88L607 309.48L607.25 308.96L607.5 308.42L607.75 308.01L608 307.85L608.25 308.01L608.5 308.42L608.75 308.96L609 309.48L609.25 309.88L609.5 310.14L609.75 310.29L609.8 310.31L610 310.36L610.05 310.36L610.25 310.39L611.8 310.37L612 310.33L612.05 310.31L612.25 310.23L612.3 310.2L612.5 310.05L612.55 310L612.75 309.77L612.8 309.7L613 309.39L613.05 309.3L613.25 308.97L613.3 308.89L613.5 308.62L613.55 308.57L613.75 308.45L613.8 308.45L614 308.53L614.05 308.57L614.25 308.81L614.3 308.89L614.5 309.22L614.55 309.3L614.75 309.62L614.8 309.7L615 309.95L615.05 310L615.25 310.17L615.3 310.2L615.5 310.3L615.55 310.31L615.75 310.36L616 310.39L623.1 310.37L623.3 310.3L623.35 310.26L623.55 310.02L623.6 309.92L623.8 309.28L623.85 309.04L624.05 307.68L624.1 307.22L624.3 304.86L624.35 304.15L624.55 300.88L624.6 299.99L624.8 296.36L624.85 295.49L625 293.08L625.05 292.37L625.1 291.73L625.3 289.84L625.35 289.55L625.55 289.01L625.6 289L625.85 289.46L626.1 290.77L626.35 292.78L626.6 295.25L626.85 297.93L627.1 300.57L627.35 302.97L627.6 305.03L627.85 306.68L628.1 307.93L628.35 308.83L628.6 309.45L628.85 309.84L629 310.01L629.1 310.09L629.35 310.23L629.6 310.26L630.1 310.29L630.6 310.31L631.35 310.34L632.35 310.36L634.1 310.38L676.3 310.4" stroke="#1c1c1c" stroke-width="0.9" fill="none" stroke-linejoin="round"/>
<path d="M573 310.4L630.6 310.39L630.85 310.34L631.1 310.15L631.35 309.56L631.6 308.06L631.85 304.86L632.1 299.2L632.35 290.84L632.6 280.6L632.85 270.32L633 265.04L633.1 262.15L633.35 257.54L633.6 256.4L633.85 257.38L634.1 260.23L634.35 264.64L634.6 270.18L634.85 276.32L635.1 282.56L635.35 288.49L635.6 293.77L635.85 298.24L636.1 301.83L636.35 304.58L636.6 306.59L636.85 307.99L637 308.61L637.1 308.94L637.35 309.54L637.6 309.91L637.85 310.08L638.1 310.12L638.35 310.15L638.6 310.18L638.85 310.2L639.1 310.23L639.35 310.25L639.85 310.28L640.35 310.31L640.85 310.33L641.6 310.35L642.85 310.37L649 310.4L676.3 310.4" stroke="#1c1c1c" stroke-width="0.9" fill="none" stroke-linejoin="round"/>
<path d="M54.6 419.55L85.8 419.54L86.05 419.34L86.3 417.47L86.55 409.99L86.6 407.55L86.8 395.42L87.05 379.91L87.3 370.32L87.55 367.12L87.8 366.8L88.05 368.07L88.3 371.69L88.55 377.18L88.8 383.81L89.05 390.84L89.3 397.59L89.55 403.54L89.8 408.44L90.05 412.2L90.3 414.92L90.55 416.78L90.6 417.01L90.8 417.29L91.05 417.6L91.3 417.87L91.55 418.1L91.8 418.3L92.05 418.47L92.3 418.62L92.55 418.74L92.8 418.85L93.05 418.95L93.3 419.03L93.55 419.1L93.8 419.16L94.05 419.22L94.3 419.26L94.55 419.3L94.6 419.31L94.8 419.34L95.05 419.36L95.3 419.39L95.55 419.41L96.05 419.45L96.55 419.47L97.3 419.5L98.3 419.52L102.6 419.55L154.4 419.55" stroke="#1c1c1c" stroke-width="0.9" fill="none" stroke-linejoin="round"/>
<path d="M187 419.55L222.65 419.53L222.9 419.51L223 419.49L223.15 419.45L223.4 419.33L223.65 419.09L223.9 418.64L224.15 417.81L224.4 416.4L224.65 414.11L224.9 410.64L225.15 405.74L225.4 399.34L225.65 391.74L225.9 383.76L226.15 376.87L226.4 373.4L226.65 375.73L226.9 380.56L227 382.88L227.15 386.57L227.4 392.87L227.65 398.83L227.9 404.06L228.15 408.38L228.4 411.77L228.65 414.31L228.9 416.13L229.15 417.39L229.4 418.22L229.65 418.76L229.9 419.05L230.15 419.14L230.4 419.22L230.65 419.28L230.9 419.33L231 419.35L231.15 419.37L231.4 419.41L231.65 419.43L231.9 419.46L232.4 419.49L232.9 419.51L233.9 419.53L286.5 419.55" stroke="#1c1c1c" stroke-width="0.9" fill="none" stroke-linejoin="round"/>
<path d="M317.9 419.55L366 419.53L366.25 419.49L366.5 419.41L366.75 419.28L367 419.06L367.25 418.79L367.5 418.5L367.75 418.28L368 418.2L368.25 418.28L368.5 418.5L368.75 418.79L369 419.06L369.25 419.28L369.5 419.41L369.75 419.49L369.9 419.52L370.25 419.54L373.65 419.54L373.75 419.49L373.9 419.14L374 418.4L374.15 415.55L374.25 411.9L374.4 403.55L374.5 396.6L374.65 385.93L374.75 379.77L374.9 373.07L375 370.38L375.15 368.47L375.25 368.08L375.4 368L375.5 368.25L375.65 369.56L375.75 371L375.9 373.95L376 376.34L376.15 380.42L376.25 383.37L376.4 387.98L376.5 391.06L376.65 395.58L376.75 398.45L376.9 402.44L377 404.85L377.15 408.06L377.25 409.92L377.4 412.29L377.5 413.62L377.65 415.12L377.75 415.36L377.9 415.69L378 415.9L378.15 416.19L378.25 416.38L378.4 416.63L378.5 416.79L378.65 417.01L378.75 417.15L378.9 417.34L379 417.46L379.15 417.62L379.25 417.73L379.4 417.87L379.5 417.96L379.65 418.09L379.75 418.17L379.9 418.28L380.15 418.45L380.4 418.59L380.65 418.71L380.9 418.82L381.15 418.92L381.4 419L381.65 419.07L381.9 419.13L382.15 419.19L382.4 419.23L382.65 419.27L382.9 419.31L383.15 419.34L383.4 419.37L383.65 419.39L383.9 419.41L384.4 419.45L384.9 419.47L385.65 419.5L386.65 419.52L389.9 419.55L417.4 419.55" stroke="#1c1c1c" stroke-width="0.9" fill="none" stroke-linejoin="round"/>
<path d="M448.9 419.55L492.9 419.55L495.4 419.49L495.65 419.43L495.9 419.3L496.15 419.08L496.4 418.68L496.65 417.98L496.9 416.85L497.15 415.05L497.4 412.33L497.65 408.43L497.9 403.12L498.15 396.29L498.4 388.09L498.65 379.02L498.9 370.05L499.15 362.64L499.4 359L499.65 361.44L499.9 366.58L500.15 373.16L500.4 380.34L500.65 387.46L500.9 394.07L501.15 399.89L501.4 404.79L501.65 408.76L501.9 411.86L502.15 414.2L502.4 415.91L502.65 417.14L502.9 417.98L503.15 418.3L503.4 418.51L503.65 418.68L503.9 418.82L504.15 418.94L504.4 419.04L504.65 419.12L504.9 419.19L505.15 419.25L505.4 419.3L505.65 419.34L505.9 419.38L506.15 419.4L506.4 419.43L506.65 419.45L507.15 419.48L507.65 419.5L508.4 419.52L510.15 419.54L548.4 419.55" stroke="#1c1c1c" stroke-width="0.9" fill="none" stroke-linejoin="round"/>
<path d="M573 420.25L605.75 420.24L606 420.21L606.25 420.14L606.5 419.99L606.75 419.73L607 419.33L607.25 418.81L607.5 418.27L607.75 417.86L608 417.7L608.25 417.86L608.5 418.27L608.75 418.81L609 419.33L609.25 419.73L609.5 419.99L609.75 420.14L609.8 420.16L610 420.21L610.05 420.21L610.25 420.24L611.8 420.22L612 420.18L612.05 420.16L612.25 420.08L612.3 420.05L612.5 419.9L612.55 419.85L612.75 419.62L612.8 419.55L613 419.24L613.05 419.15L613.25 418.82L613.3 418.74L613.5 418.47L613.55 418.42L613.75 418.3L613.8 418.3L614 418.38L614.05 418.42L614.25 418.66L614.3 418.74L614.5 419.07L614.55 419.15L614.75 419.47L614.8 419.55L615 419.8L615.05 419.85L615.25 420.02L615.3 420.05L615.5 420.15L615.55 420.16L615.75 420.21L616 420.24L622.55 420.24L622.8 420.21L623.05 420.09L623.3 419.69L623.55 418.67L623.8 416.54L624.05 412.96L624.3 408.11L624.55 402.86L624.8 398.48L625 396.28L625.05 395.94L625.3 395.3L625.55 395.83L625.8 397.37L626.05 399.71L626.3 402.59L626.55 405.71L626.8 408.79L627.05 411.59L627.3 413.99L627.55 415.91L627.8 417.37L628.05 418.42L628.3 419.14L628.55 419.6L628.8 419.89L629 420.03L629.05 420.06L629.3 420.08L629.8 420.12L630.3 420.15L630.8 420.17L631.55 420.2L632.55 420.22L634.55 420.24L676.3 420.25" stroke="#1c1c1c" stroke-width="0.9" fill="none" stroke-linejoin="round"/>
<path d="M573 420.25L630.1 420.24L630.35 420.19L630.6 420L630.85 419.41L631.1 417.92L631.35 414.74L631.6 409.1L631.85 400.78L632.1 390.59L632.35 380.35L632.6 372.23L632.85 367.63L633 366.63L633.1 366.5L633.35 367.48L633.6 370.32L633.85 374.71L634.1 380.21L634.35 386.32L634.6 392.54L634.85 398.44L635.1 403.7L635.35 408.15L635.6 411.72L635.85 414.45L636.1 416.45L636.35 417.85L636.6 418.79L636.85 419.4L637 419.64L637.1 419.77L637.35 419.93L637.6 419.97L637.85 420L638.1 420.03L638.35 420.06L638.6 420.08L638.85 420.1L639.35 420.13L639.85 420.16L640.35 420.18L641.1 420.2L642.35 420.22L649 420.25L676.3 420.25" stroke="#1c1c1c" stroke-width="0.9" fill="none" stroke-linejoin="round"/>
<path d="M54.6 133.5V200.7" stroke="#4a4a4a" stroke-width="1.0" fill="none"/>
<path d="M54.1 200.2H154.9" stroke="#4a4a4a" stroke-width="1.0" fill="none"/>
<text x="54.9" y="211" text-anchor="middle" class="tk">1.0</text>
<text x="79.85" y="211" text-anchor="middle" class="tk">1.5</text>
<text x="104.8" y="211" text-anchor="middle" class="tk">2.0</text>
<text x="129.75" y="211" text-anchor="middle" class="tk">2.5</text>
<text x="154.7" y="211" text-anchor="middle" class="tk">3.0</text>
<text x="52" y="137.1" text-anchor="end" class="tk">3<tspan class="mul" dx="0.65" dy="0.4">×</tspan><tspan dx="0.65" dy="-0.4">10</tspan><tspan class="sup" dx="0.5" dy="-2.9">3</tspan></text>
<text x="52" y="159" text-anchor="end" class="tk">2<tspan class="mul" dx="0.65" dy="0.4">×</tspan><tspan dx="0.65" dy="-0.4">10</tspan><tspan class="sup" dx="0.5" dy="-2.9">3</tspan></text>
<text x="52" y="181" text-anchor="end" class="tk">1<tspan class="mul" dx="0.65" dy="0.4">×</tspan><tspan dx="0.65" dy="-0.4">10</tspan><tspan class="sup" dx="0.5" dy="-2.9">3</tspan></text>
<text x="51" y="202.9" text-anchor="end" class="tk">0</text>
<path d="M54.6 200.2v1.9M79.55 200.2v1.9M104.5 200.2v1.9M129.45 200.2v1.9M154.4 200.2v1.9M54.6 134.3h-1.9M54.6 156.2h-1.9M54.6 178.2h-1.9M54.6 200.2h-1.9" stroke="#4a4a4a" stroke-width="1.0" fill="none"/>
<text x="45.3" y="123" class="let">f</text>
<path d="M187 133.5V200.7" stroke="#4a4a4a" stroke-width="1.3" fill="none"/>
<path d="M186.5 200.2H287" stroke="#4a4a4a" stroke-width="1.0" fill="none"/>
<text x="187.3" y="211" text-anchor="middle" class="tk">1.0</text>
<text x="212.18" y="211" text-anchor="middle" class="tk">1.5</text>
<text x="237.05" y="211" text-anchor="middle" class="tk">2.0</text>
<text x="261.93" y="211" text-anchor="middle" class="tk">2.5</text>
<text x="286.8" y="211" text-anchor="middle" class="tk">3.0</text>
<text x="183.7" y="137.6" text-anchor="end" class="tk">3<tspan class="mul" dx="0.65" dy="0.4">×</tspan><tspan dx="0.65" dy="-0.4">10</tspan><tspan class="sup" dx="0.5" dy="-2.9">3</tspan></text>
<text x="183.7" y="159.5" text-anchor="end" class="tk">2<tspan class="mul" dx="0.65" dy="0.4">×</tspan><tspan dx="0.65" dy="-0.4">10</tspan><tspan class="sup" dx="0.5" dy="-2.9">3</tspan></text>
<text x="183.7" y="181.5" text-anchor="end" class="tk">1<tspan class="mul" dx="0.65" dy="0.4">×</tspan><tspan dx="0.65" dy="-0.4">10</tspan><tspan class="sup" dx="0.5" dy="-2.9">3</tspan></text>
<text x="183.4" y="202.9" text-anchor="end" class="tk">0</text>
<path d="M187 200.2v1.9M211.88 200.2v1.9M236.75 200.2v1.9M261.62 200.2v1.9M286.5 200.2v1.9M187 134.3h-1.9M187 156.2h-1.9M187 178.2h-1.9M187 200.2h-1.9" stroke="#4a4a4a" stroke-width="1.0" fill="none"/>
<text x="171.5" y="123" class="let">g</text>
<path d="M317.9 133.5V200.7" stroke="#4a4a4a" stroke-width="1.3" fill="none"/>
<path d="M317.4 200.2H417.9" stroke="#4a4a4a" stroke-width="1.0" fill="none"/>
<text x="318.2" y="211" text-anchor="middle" class="tk">1.0</text>
<text x="343.07" y="211" text-anchor="middle" class="tk">1.5</text>
<text x="367.95" y="211" text-anchor="middle" class="tk">2.0</text>
<text x="392.82" y="211" text-anchor="middle" class="tk">2.5</text>
<text x="417.7" y="211" text-anchor="middle" class="tk">3.0</text>
<text x="315.45" y="141.4" text-anchor="end" class="tk">8<tspan class="mul" dx="0.65" dy="0.4">×</tspan><tspan dx="0.65" dy="-0.4">10</tspan><tspan class="sup" dx="0.5" dy="-2.9">4</tspan></text>
<text x="315.45" y="162" text-anchor="end" class="tk">5<tspan class="mul" dx="0.65" dy="0.4">×</tspan><tspan dx="0.65" dy="-0.4">10</tspan><tspan class="sup" dx="0.5" dy="-2.9">4</tspan></text>
<text x="315.45" y="182.6" text-anchor="end" class="tk">3<tspan class="mul" dx="0.65" dy="0.4">×</tspan><tspan dx="0.65" dy="-0.4">10</tspan><tspan class="sup" dx="0.5" dy="-2.9">4</tspan></text>
<text x="314.3" y="202.9" text-anchor="end" class="tk">0</text>
<path d="M317.9 200.2v1.9M342.77 200.2v1.9M367.65 200.2v1.9M392.52 200.2v1.9M417.4 200.2v1.9M317.9 138.1h-1.9M317.9 158.7h-1.9M317.9 179.3h-1.9M317.9 200.2h-1.9" stroke="#4a4a4a" stroke-width="1.0" fill="none"/>
<text x="303.3" y="123" class="let">h</text>
<path d="M448.9 133.5V200.7" stroke="#4a4a4a" stroke-width="1.3" fill="none"/>
<path d="M448.4 200.2H548.9" stroke="#4a4a4a" stroke-width="1.0" fill="none"/>
<text x="449.2" y="211" text-anchor="middle" class="tk">1.0</text>
<text x="474.07" y="211" text-anchor="middle" class="tk">1.5</text>
<text x="498.95" y="211" text-anchor="middle" class="tk">2.0</text>
<text x="523.82" y="211" text-anchor="middle" class="tk">2.5</text>
<text x="548.7" y="211" text-anchor="middle" class="tk">3.0</text>
<text x="445.8" y="141.4" text-anchor="end" class="tk">8<tspan class="mul" dx="0.65" dy="0.4">×</tspan><tspan dx="0.65" dy="-0.4">10</tspan><tspan class="sup" dx="0.5" dy="-2.9">4</tspan></text>
<text x="445.8" y="162" text-anchor="end" class="tk">5<tspan class="mul" dx="0.65" dy="0.4">×</tspan><tspan dx="0.65" dy="-0.4">10</tspan><tspan class="sup" dx="0.5" dy="-2.9">4</tspan></text>
<text x="445.8" y="182.6" text-anchor="end" class="tk">3<tspan class="mul" dx="0.65" dy="0.4">×</tspan><tspan dx="0.65" dy="-0.4">10</tspan><tspan class="sup" dx="0.5" dy="-2.9">4</tspan></text>
<text x="445.8" y="202.9" text-anchor="end" class="tk">0</text>
<path d="M448.9 200.2v1.9M473.77 200.2v1.9M498.65 200.2v1.9M523.52 200.2v1.9M548.4 200.2v1.9M448.9 138.1h-1.9M448.9 158.7h-1.9M448.9 179.3h-1.9M448.9 200.2h-1.9" stroke="#4a4a4a" stroke-width="1.0" fill="none"/>
<text x="437" y="123" class="let">i</text>
<path d="M573 132.75V201.05" stroke="#4a4a4a" stroke-width="1.3" fill="none"/>
<path d="M572.5 200.55H676.8" stroke="#4a4a4a" stroke-width="1.0" fill="none"/>
<text x="573.3" y="211.35" text-anchor="middle" class="tk">1.0</text>
<text x="599.12" y="211.35" text-anchor="middle" class="tk">1.5</text>
<text x="624.95" y="211.35" text-anchor="middle" class="tk">2.0</text>
<text x="650.77" y="211.35" text-anchor="middle" class="tk">2.5</text>
<text x="676.6" y="211.35" text-anchor="middle" class="tk">3.0</text>
<text x="571.05" y="140.05" text-anchor="end" class="tk">8<tspan class="mul" dx="0.65" dy="0.4">×</tspan><tspan dx="0.65" dy="-0.4">10</tspan><tspan class="sup" dx="0.5" dy="-2.9">4</tspan></text>
<text x="571.05" y="161.35" text-anchor="end" class="tk">5<tspan class="mul" dx="0.65" dy="0.4">×</tspan><tspan dx="0.65" dy="-0.4">10</tspan><tspan class="sup" dx="0.5" dy="-2.9">4</tspan></text>
<text x="571.05" y="182.55" text-anchor="end" class="tk">3<tspan class="mul" dx="0.65" dy="0.4">×</tspan><tspan dx="0.65" dy="-0.4">10</tspan><tspan class="sup" dx="0.5" dy="-2.9">4</tspan></text>
<text x="569.4" y="203.25" text-anchor="end" class="tk">0</text>
<path d="M573 200.55v1.9M598.83 200.55v1.9M624.65 200.55v1.9M650.47 200.55v1.9M676.3 200.55v1.9M573 136.75h-1.9M573 158.05h-1.9M573 179.25h-1.9M573 200.55h-1.9" stroke="#4a4a4a" stroke-width="1.0" fill="none"/>
<text x="566" y="123" class="let">j</text>
<path d="M54.6 243.2V310.4" stroke="#4a4a4a" stroke-width="1.0" fill="none"/>
<path d="M54.1 309.9H154.9" stroke="#4a4a4a" stroke-width="1.0" fill="none"/>
<text x="54.9" y="321" text-anchor="middle" class="tk">1.0</text>
<text x="79.85" y="321" text-anchor="middle" class="tk">1.5</text>
<text x="104.8" y="321" text-anchor="middle" class="tk">2.0</text>
<text x="129.75" y="321" text-anchor="middle" class="tk">2.5</text>
<text x="154.7" y="321" text-anchor="middle" class="tk">3.0</text>
<text x="52" y="246.8" text-anchor="end" class="tk">6<tspan class="mul" dx="0.65" dy="0.4">×</tspan><tspan dx="0.65" dy="-0.4">10</tspan><tspan class="sup" dx="0.5" dy="-2.9">4</tspan></text>
<text x="52" y="268.7" text-anchor="end" class="tk">4<tspan class="mul" dx="0.65" dy="0.4">×</tspan><tspan dx="0.65" dy="-0.4">10</tspan><tspan class="sup" dx="0.5" dy="-2.9">4</tspan></text>
<text x="52" y="290.7" text-anchor="end" class="tk">2<tspan class="mul" dx="0.65" dy="0.4">×</tspan><tspan dx="0.65" dy="-0.4">10</tspan><tspan class="sup" dx="0.5" dy="-2.9">4</tspan></text>
<text x="51" y="312.6" text-anchor="end" class="tk">0</text>
<path d="M54.6 309.9v1.9M79.55 309.9v1.9M104.5 309.9v1.9M129.45 309.9v1.9M154.4 309.9v1.9M54.6 244h-1.9M54.6 265.9h-1.9M54.6 287.9h-1.9M54.6 309.9h-1.9" stroke="#4a4a4a" stroke-width="1.0" fill="none"/>
<text x="42.2" y="234.2" class="let">k</text>
<path d="M187 243.2V310.4" stroke="#4a4a4a" stroke-width="1.3" fill="none"/>
<path d="M186.5 309.9H287" stroke="#4a4a4a" stroke-width="1.0" fill="none"/>
<text x="187.3" y="321" text-anchor="middle" class="tk">1.0</text>
<text x="212.18" y="321" text-anchor="middle" class="tk">1.5</text>
<text x="237.05" y="321" text-anchor="middle" class="tk">2.0</text>
<text x="261.93" y="321" text-anchor="middle" class="tk">2.5</text>
<text x="286.8" y="321" text-anchor="middle" class="tk">3.0</text>
<text x="183.7" y="251.1" text-anchor="end" class="tk">4<tspan class="mul" dx="0.65" dy="0.4">×</tspan><tspan dx="0.65" dy="-0.4">10</tspan><tspan class="sup" dx="0.5" dy="-2.9">4</tspan></text>
<text x="183.7" y="271.7" text-anchor="end" class="tk">3<tspan class="mul" dx="0.65" dy="0.4">×</tspan><tspan dx="0.65" dy="-0.4">10</tspan><tspan class="sup" dx="0.5" dy="-2.9">4</tspan></text>
<text x="183.7" y="292.3" text-anchor="end" class="tk">1<tspan class="mul" dx="0.65" dy="0.4">×</tspan><tspan dx="0.65" dy="-0.4">10</tspan><tspan class="sup" dx="0.5" dy="-2.9">4</tspan></text>
<text x="183.4" y="312.6" text-anchor="end" class="tk">0</text>
<path d="M187 309.9v1.9M211.88 309.9v1.9M236.75 309.9v1.9M261.62 309.9v1.9M286.5 309.9v1.9M187 247.8h-1.9M187 268.4h-1.9M187 289h-1.9M187 309.9h-1.9" stroke="#4a4a4a" stroke-width="1.0" fill="none"/>
<text x="177" y="234.2" class="let">l</text>
<path d="M317.9 243.2V310.4" stroke="#4a4a4a" stroke-width="1.3" fill="none"/>
<path d="M317.4 309.9H417.9" stroke="#4a4a4a" stroke-width="1.0" fill="none"/>
<text x="318.2" y="321" text-anchor="middle" class="tk">1.0</text>
<text x="343.07" y="321" text-anchor="middle" class="tk">1.5</text>
<text x="367.95" y="321" text-anchor="middle" class="tk">2.0</text>
<text x="392.82" y="321" text-anchor="middle" class="tk">2.5</text>
<text x="417.7" y="321" text-anchor="middle" class="tk">3.0</text>
<text x="315.45" y="253.6" text-anchor="end" class="tk">2<tspan class="mul" dx="0.65" dy="0.4">×</tspan><tspan dx="0.65" dy="-0.4">10</tspan><tspan class="sup" dx="0.5" dy="-2.9">6</tspan></text>
<text x="315.45" y="273.5" text-anchor="end" class="tk">1<tspan class="mul" dx="0.65" dy="0.4">×</tspan><tspan dx="0.65" dy="-0.4">10</tspan><tspan class="sup" dx="0.5" dy="-2.9">6</tspan></text>
<text x="315.45" y="293.4" text-anchor="end" class="tk">6<tspan class="mul" dx="0.65" dy="0.4">×</tspan><tspan dx="0.65" dy="-0.4">10</tspan><tspan class="sup" dx="0.5" dy="-2.9">5</tspan></text>
<text x="314.3" y="312.6" text-anchor="end" class="tk">0</text>
<path d="M317.9 309.9v1.9M342.77 309.9v1.9M367.65 309.9v1.9M392.52 309.9v1.9M417.4 309.9v1.9M317.9 250.3h-1.9M317.9 270.2h-1.9M317.9 290.1h-1.9M317.9 309.9h-1.9" stroke="#4a4a4a" stroke-width="1.0" fill="none"/>
<text x="300.2" y="234.2" class="let">m</text>
<path d="M448.9 243.2V310.4" stroke="#4a4a4a" stroke-width="1.3" fill="none"/>
<path d="M448.4 309.9H548.9" stroke="#4a4a4a" stroke-width="1.0" fill="none"/>
<text x="449.2" y="321" text-anchor="middle" class="tk">1.0</text>
<text x="474.07" y="321" text-anchor="middle" class="tk">1.5</text>
<text x="498.95" y="321" text-anchor="middle" class="tk">2.0</text>
<text x="523.82" y="321" text-anchor="middle" class="tk">2.5</text>
<text x="548.7" y="321" text-anchor="middle" class="tk">3.0</text>
<text x="445.8" y="251.1" text-anchor="end" class="tk">8<tspan class="mul" dx="0.65" dy="0.4">×</tspan><tspan dx="0.65" dy="-0.4">10</tspan><tspan class="sup" dx="0.5" dy="-2.9">5</tspan></text>
<text x="445.8" y="271.7" text-anchor="end" class="tk">5<tspan class="mul" dx="0.65" dy="0.4">×</tspan><tspan dx="0.65" dy="-0.4">10</tspan><tspan class="sup" dx="0.5" dy="-2.9">5</tspan></text>
<text x="445.8" y="292.3" text-anchor="end" class="tk">3<tspan class="mul" dx="0.65" dy="0.4">×</tspan><tspan dx="0.65" dy="-0.4">10</tspan><tspan class="sup" dx="0.5" dy="-2.9">5</tspan></text>
<text x="445.8" y="312.6" text-anchor="end" class="tk">0</text>
<path d="M448.9 309.9v1.9M473.77 309.9v1.9M498.65 309.9v1.9M523.52 309.9v1.9M548.4 309.9v1.9M448.9 247.8h-1.9M448.9 268.4h-1.9M448.9 289h-1.9M448.9 309.9h-1.9" stroke="#4a4a4a" stroke-width="1.0" fill="none"/>
<text x="435.8" y="234.2" class="let">n</text>
<path d="M573 242.65V310.95" stroke="#4a4a4a" stroke-width="1.3" fill="none"/>
<path d="M572.5 310.45H676.8" stroke="#4a4a4a" stroke-width="1.0" fill="none"/>
<text x="573.3" y="321.55" text-anchor="middle" class="tk">1.0</text>
<text x="599.12" y="321.55" text-anchor="middle" class="tk">1.5</text>
<text x="624.95" y="321.55" text-anchor="middle" class="tk">2.0</text>
<text x="650.77" y="321.55" text-anchor="middle" class="tk">2.5</text>
<text x="676.6" y="321.55" text-anchor="middle" class="tk">3.0</text>
<text x="571.05" y="251.85" text-anchor="end" class="tk">2<tspan class="mul" dx="0.65" dy="0.4">×</tspan><tspan dx="0.65" dy="-0.4">10</tspan><tspan class="sup" dx="0.5" dy="-2.9">6</tspan></text>
<text x="571.05" y="272.45" text-anchor="end" class="tk">1<tspan class="mul" dx="0.65" dy="0.4">×</tspan><tspan dx="0.65" dy="-0.4">10</tspan><tspan class="sup" dx="0.5" dy="-2.9">6</tspan></text>
<text x="571.05" y="292.85" text-anchor="end" class="tk">6<tspan class="mul" dx="0.65" dy="0.4">×</tspan><tspan dx="0.65" dy="-0.4">10</tspan><tspan class="sup" dx="0.5" dy="-2.9">5</tspan></text>
<text x="569.4" y="313.15" text-anchor="end" class="tk">0</text>
<path d="M573 310.45v1.9M598.83 310.45v1.9M624.65 310.45v1.9M650.47 310.45v1.9M676.3 310.45v1.9M573 248.55h-1.9M573 269.15h-1.9M573 289.55h-1.9M573 310.45h-1.9" stroke="#4a4a4a" stroke-width="1.0" fill="none"/>
<text x="560" y="234.2" class="let">o</text>
<path d="M54.6 352.9V420.1" stroke="#4a4a4a" stroke-width="1.0" fill="none"/>
<path d="M54.1 419.6H154.9" stroke="#4a4a4a" stroke-width="1.0" fill="none"/>
<text x="54.9" y="431" text-anchor="middle" class="tk">1.0</text>
<text x="79.85" y="431" text-anchor="middle" class="tk">1.5</text>
<text x="104.8" y="431" text-anchor="middle" class="tk">2.0</text>
<text x="129.75" y="431" text-anchor="middle" class="tk">2.5</text>
<text x="154.7" y="431" text-anchor="middle" class="tk">3.0</text>
<text x="52" y="356.5" text-anchor="end" class="tk">6<tspan class="mul" dx="0.65" dy="0.4">×</tspan><tspan dx="0.65" dy="-0.4">10</tspan><tspan class="sup" dx="0.5" dy="-2.9">4</tspan></text>
<text x="52" y="378.4" text-anchor="end" class="tk">4<tspan class="mul" dx="0.65" dy="0.4">×</tspan><tspan dx="0.65" dy="-0.4">10</tspan><tspan class="sup" dx="0.5" dy="-2.9">4</tspan></text>
<text x="52" y="400.4" text-anchor="end" class="tk">2<tspan class="mul" dx="0.65" dy="0.4">×</tspan><tspan dx="0.65" dy="-0.4">10</tspan><tspan class="sup" dx="0.5" dy="-2.9">4</tspan></text>
<text x="51" y="422.3" text-anchor="end" class="tk">0</text>
<path d="M54.6 419.6v1.9M79.55 419.6v1.9M104.5 419.6v1.9M129.45 419.6v1.9M154.4 419.6v1.9M54.6 353.7h-1.9M54.6 375.6h-1.9M54.6 397.6h-1.9M54.6 419.6h-1.9" stroke="#4a4a4a" stroke-width="1.0" fill="none"/>
<text x="42.2" y="341.2" class="let">p</text>
<path d="M187 352.9V420.1" stroke="#4a4a4a" stroke-width="1.3" fill="none"/>
<path d="M186.5 419.6H287" stroke="#4a4a4a" stroke-width="1.0" fill="none"/>
<text x="187.3" y="431" text-anchor="middle" class="tk">1.0</text>
<text x="212.18" y="431" text-anchor="middle" class="tk">1.5</text>
<text x="237.05" y="431" text-anchor="middle" class="tk">2.0</text>
<text x="261.93" y="431" text-anchor="middle" class="tk">2.5</text>
<text x="286.8" y="431" text-anchor="middle" class="tk">3.0</text>
<text x="183.7" y="360.8" text-anchor="end" class="tk">4<tspan class="mul" dx="0.65" dy="0.4">×</tspan><tspan dx="0.65" dy="-0.4">10</tspan><tspan class="sup" dx="0.5" dy="-2.9">4</tspan></text>
<text x="183.7" y="381.4" text-anchor="end" class="tk">3<tspan class="mul" dx="0.65" dy="0.4">×</tspan><tspan dx="0.65" dy="-0.4">10</tspan><tspan class="sup" dx="0.5" dy="-2.9">4</tspan></text>
<text x="183.7" y="402" text-anchor="end" class="tk">1<tspan class="mul" dx="0.65" dy="0.4">×</tspan><tspan dx="0.65" dy="-0.4">10</tspan><tspan class="sup" dx="0.5" dy="-2.9">4</tspan></text>
<text x="183.4" y="422.3" text-anchor="end" class="tk">0</text>
<path d="M187 419.6v1.9M211.88 419.6v1.9M236.75 419.6v1.9M261.62 419.6v1.9M286.5 419.6v1.9M187 357.5h-1.9M187 378.1h-1.9M187 398.7h-1.9M187 419.6h-1.9" stroke="#4a4a4a" stroke-width="1.0" fill="none"/>
<text x="174" y="341.2" class="let">q</text>
<path d="M317.9 352.9V420.1" stroke="#4a4a4a" stroke-width="1.3" fill="none"/>
<path d="M317.4 419.6H417.9" stroke="#4a4a4a" stroke-width="1.0" fill="none"/>
<text x="318.2" y="431" text-anchor="middle" class="tk">1.0</text>
<text x="343.07" y="431" text-anchor="middle" class="tk">1.5</text>
<text x="367.95" y="431" text-anchor="middle" class="tk">2.0</text>
<text x="392.82" y="431" text-anchor="middle" class="tk">2.5</text>
<text x="417.7" y="431" text-anchor="middle" class="tk">3.0</text>
<text x="315.45" y="363.3" text-anchor="end" class="tk">2<tspan class="mul" dx="0.65" dy="0.4">×</tspan><tspan dx="0.65" dy="-0.4">10</tspan><tspan class="sup" dx="0.5" dy="-2.9">6</tspan></text>
<text x="315.45" y="383.2" text-anchor="end" class="tk">1<tspan class="mul" dx="0.65" dy="0.4">×</tspan><tspan dx="0.65" dy="-0.4">10</tspan><tspan class="sup" dx="0.5" dy="-2.9">6</tspan></text>
<text x="315.45" y="403.1" text-anchor="end" class="tk">6<tspan class="mul" dx="0.65" dy="0.4">×</tspan><tspan dx="0.65" dy="-0.4">10</tspan><tspan class="sup" dx="0.5" dy="-2.9">5</tspan></text>
<text x="314.3" y="422.3" text-anchor="end" class="tk">0</text>
<path d="M317.9 419.6v1.9M342.77 419.6v1.9M367.65 419.6v1.9M392.52 419.6v1.9M417.4 419.6v1.9M317.9 360h-1.9M317.9 379.9h-1.9M317.9 399.8h-1.9M317.9 419.6h-1.9" stroke="#4a4a4a" stroke-width="1.0" fill="none"/>
<text x="305.8" y="341.2" class="let">r</text>
<path d="M448.9 352.9V420.1" stroke="#4a4a4a" stroke-width="1.3" fill="none"/>
<path d="M448.4 419.6H548.9" stroke="#4a4a4a" stroke-width="1.0" fill="none"/>
<text x="449.2" y="431" text-anchor="middle" class="tk">1.0</text>
<text x="474.07" y="431" text-anchor="middle" class="tk">1.5</text>
<text x="498.95" y="431" text-anchor="middle" class="tk">2.0</text>
<text x="523.82" y="431" text-anchor="middle" class="tk">2.5</text>
<text x="548.7" y="431" text-anchor="middle" class="tk">3.0</text>
<text x="445.8" y="360.8" text-anchor="end" class="tk">8<tspan class="mul" dx="0.65" dy="0.4">×</tspan><tspan dx="0.65" dy="-0.4">10</tspan><tspan class="sup" dx="0.5" dy="-2.9">5</tspan></text>
<text x="445.8" y="381.4" text-anchor="end" class="tk">5<tspan class="mul" dx="0.65" dy="0.4">×</tspan><tspan dx="0.65" dy="-0.4">10</tspan><tspan class="sup" dx="0.5" dy="-2.9">5</tspan></text>
<text x="445.8" y="402" text-anchor="end" class="tk">3<tspan class="mul" dx="0.65" dy="0.4">×</tspan><tspan dx="0.65" dy="-0.4">10</tspan><tspan class="sup" dx="0.5" dy="-2.9">5</tspan></text>
<text x="445.8" y="422.3" text-anchor="end" class="tk">0</text>
<path d="M448.9 419.6v1.9M473.77 419.6v1.9M498.65 419.6v1.9M523.52 419.6v1.9M548.4 419.6v1.9M448.9 357.5h-1.9M448.9 378.1h-1.9M448.9 398.7h-1.9M448.9 419.6h-1.9" stroke="#4a4a4a" stroke-width="1.0" fill="none"/>
<text x="433.3" y="341.2" class="let">s</text>
<path d="M573 352.5V420.8" stroke="#4a4a4a" stroke-width="1.3" fill="none"/>
<path d="M572.5 420.3H676.8" stroke="#4a4a4a" stroke-width="1.0" fill="none"/>
<text x="573.3" y="431.7" text-anchor="middle" class="tk">1.0</text>
<text x="599.12" y="431.7" text-anchor="middle" class="tk">1.5</text>
<text x="624.95" y="431.7" text-anchor="middle" class="tk">2.0</text>
<text x="650.77" y="431.7" text-anchor="middle" class="tk">2.5</text>
<text x="676.6" y="431.7" text-anchor="middle" class="tk">3.0</text>
<text x="571.05" y="361.7" text-anchor="end" class="tk">2<tspan class="mul" dx="0.65" dy="0.4">×</tspan><tspan dx="0.65" dy="-0.4">10</tspan><tspan class="sup" dx="0.5" dy="-2.9">6</tspan></text>
<text x="571.05" y="382.3" text-anchor="end" class="tk">1<tspan class="mul" dx="0.65" dy="0.4">×</tspan><tspan dx="0.65" dy="-0.4">10</tspan><tspan class="sup" dx="0.5" dy="-2.9">6</tspan></text>
<text x="571.05" y="402.7" text-anchor="end" class="tk">6<tspan class="mul" dx="0.65" dy="0.4">×</tspan><tspan dx="0.65" dy="-0.4">10</tspan><tspan class="sup" dx="0.5" dy="-2.9">5</tspan></text>
<text x="569.4" y="423" text-anchor="end" class="tk">0</text>
<path d="M573 420.3v1.9M598.83 420.3v1.9M624.65 420.3v1.9M650.47 420.3v1.9M676.3 420.3v1.9M573 358.4h-1.9M573 379h-1.9M573 399.4h-1.9M573 420.3h-1.9" stroke="#4a4a4a" stroke-width="1.0" fill="none"/>
<text x="560.6" y="341.2" class="let">t</text>
<text x="89.1" y="151.1" text-anchor="middle" class="tk pk">1.67</text>
<text x="226.8" y="139.8" text-anchor="middle" class="tk pk">1.79</text>
<text x="376" y="145.4" text-anchor="middle" class="tk pk">2.16</text>
<text x="498.9" y="141.9" text-anchor="middle" class="tk pk">2.01</text>
<text transform="translate(627.1 142.3) rotate(-90)" class="tk pk">2.01</text>
<text transform="translate(635.5 142.3) rotate(-90)" class="tk pk">2.16</text>
<text transform="translate(608 197.1) rotate(-90)" class="tk pk">1.67</text>
<text transform="translate(619.7 197.1) rotate(-90)" class="tk pk">1.79</text>
<text x="88.6" y="246.9" text-anchor="middle" class="tk pk">1.67</text>
<text x="226.8" y="251.9" text-anchor="middle" class="tk pk">1.81</text>
<text x="376.6" y="254.2" text-anchor="middle" class="tk pk">2.16</text>
<text x="499.5" y="255.4" text-anchor="middle" class="tk pk">2.00</text>
<text transform="translate(628.1 287.6) rotate(-90)" class="tk pk">2.00</text>
<text transform="translate(636.4 253.8) rotate(-90)" class="tk pk">2.16</text>
<text transform="translate(609.1 307.1) rotate(-90)" class="tk pk">1.67</text>
<text transform="translate(619.1 307.1) rotate(-90)" class="tk pk">1.81</text>
<text x="86.9" y="363.8" text-anchor="middle" class="tk pk">1.67</text>
<text x="227.1" y="370.7" text-anchor="middle" class="tk pk">1.80</text>
<text x="376" y="364.5" text-anchor="middle" class="tk pk">2.15</text>
<text x="499" y="355.5" text-anchor="middle" class="tk pk">2.00</text>
<text transform="translate(628.1 393.3) rotate(-90)" class="tk pk">2.00</text>
<text transform="translate(636.4 363.6) rotate(-90)" class="tk pk">2.15</text>
<text transform="translate(609.1 417.1) rotate(-90)" class="tk pk">1.67</text>
<text transform="translate(619.1 417.1) rotate(-90)" class="tk pk">1.80</text>
</svg>
</body></html>
